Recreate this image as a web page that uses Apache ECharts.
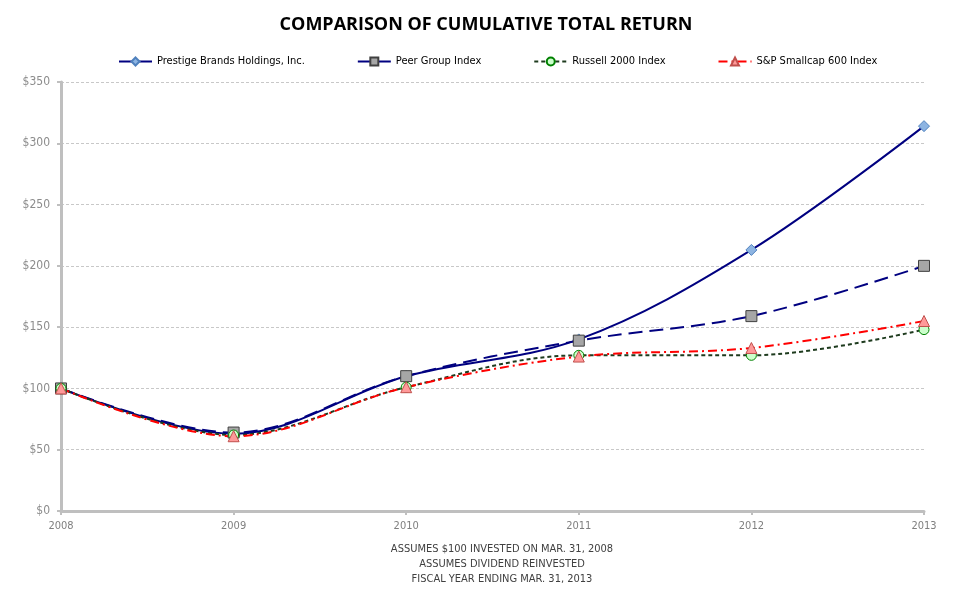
<!DOCTYPE html>
<html><head><meta charset="utf-8">
<script src="https://cdn.jsdelivr.net/npm/echarts@6/dist/echarts.min.js"></script>
<style>html,body{margin:0;padding:0;background:#fff}#c{width:969px;height:592px}</style>
</head><body><div id="c"></div>
<script>
const years = ['2008','2009','2010','2011','2012','2013'];
const prestige = [100, 63, 110, 140, 213, 314];
const peer = [100, 64, 110, 139, 159, 200];
const russell = [100, 62, 101, 127, 127, 148];
const sp600 = [100, 61, 101, 126, 133, 155];
const yTicks = [0, 50, 100, 150, 200, 250, 300, 350];
const footnotes = ['ASSUMES $100 INVESTED ON MAR. 31, 2008', 'ASSUMES DIVIDEND REINVESTED', 'FISCAL YEAR ENDING MAR. 31, 2013'];

const FONT = '"DejaVu Sans Condensed", "Liberation Sans Narrow", "Liberation Sans", sans-serif';
const chart = echarts.init(document.getElementById('c'));
function mk(name, data, color, dash, symbol, fill, border, size){
  return {name, type:'line', data, smooth:0.35, symbol, symbolSize:size,
    lineStyle:{color, width:2, type:dash},
    itemStyle:{color:fill, borderColor:border, borderWidth:1},
    emphasis:{disabled:true}};
}
chart.setOption({
  animation:false,
  textStyle:{fontFamily:FONT},
  title:{text:'COMPARISON OF CUMULATIVE TOTAL RETURN', left:481, textAlign:'center', top:11,
    textStyle:{fontFamily:'"Open Sans", sans-serif', fontWeight:'bold', fontSize:18, color:'#000'}},
  legend:{top:51, left:113, itemWidth:33, itemHeight:10, itemGap:52,
    textStyle:{fontFamily:FONT, fontSize:11, color:'#000'},
    data:['Prestige Brands Holdings, Inc.','Peer Group Index','Russell 2000 Index','S&P Smallcap 600 Index']},
  grid:{left:61, right:45, top:82, bottom:81},
  xAxis:{type:'category', data:years, boundaryGap:false,
    axisLine:{lineStyle:{color:'#bfbfbf', width:3}},
    axisTick:{show:true, length:4, lineStyle:{color:'#bfbfbf', width:2}},
    axisLabel:{color:'#7f7f7f', fontSize:11, margin:10, fontFamily:FONT}},
  yAxis:{type:'value', min:0, max:350, interval:50,
    axisLine:{show:true, lineStyle:{color:'#bfbfbf', width:3}},
    axisTick:{show:true, length:4, lineStyle:{color:'#bfbfbf', width:2}},
    axisLabel:{color:'#8c8c8c', fontSize:12, margin:11, fontFamily:FONT,
      formatter:v=> yTicks.includes(v) ? '$'+v : ''},
    splitLine:{lineStyle:{color:'#c8c8c8', type:[3,2], width:1}}},
  graphic: footnotes.map((t,i)=>({type:'text', x:502, y:544+i*15, style:{text:t, fill:'#404040',
    font:'11px '+FONT, align:'center'}})),
  series:[
    mk('Prestige Brands Holdings, Inc.', prestige, '#000080', 'solid', 'diamond', '#8db4e2', '#4f81bd', 11),
    mk('Peer Group Index', peer, '#000080', [14,7], 'rect', '#a6a6a6', '#404040', 11),
    mk('Russell 2000 Index', russell, '#1e3b1e', [4,3], 'circle', '#ccffcc', '#008000', 10),
    mk('S&P Smallcap 600 Index', sp600, '#ff0000', [9,4,2,4], 'triangle', '#ff9999', '#c0504d', 11)
  ]
});
</script></body></html>
